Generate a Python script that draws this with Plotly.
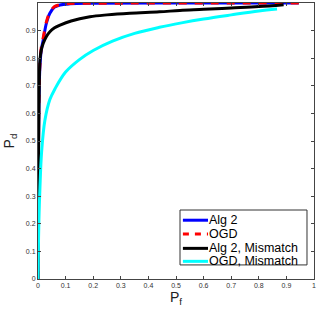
import plotly.graph_objects as go

alg2_x = [0, 0.001, 0.003, 0.007, 0.012, 0.019, 0.03, 0.043, 0.06, 0.08, 0.116, 0.2, 0.5, 0.945]
alg2_y = [0, 0.40, 0.62, 0.77, 0.83, 0.866, 0.925, 0.963, 0.985, 0.993, 0.997, 0.999, 1.0, 1.0]

ogd_x = [0, 0.001, 0.003, 0.007, 0.012, 0.019, 0.03, 0.043, 0.06, 0.08, 0.116, 0.2, 0.5, 0.945]
ogd_y = [0, 0.42, 0.64, 0.78, 0.84, 0.875, 0.93, 0.966, 0.987, 0.994, 0.998, 0.999, 1.0, 1.0]

alg2m_x = [0, 0.002, 0.004, 0.007, 0.012, 0.019, 0.03, 0.043, 0.06, 0.08, 0.12, 0.188, 0.25, 0.333, 0.44, 0.514, 0.6, 0.7, 0.8, 0.89]
alg2m_y = [0, 0.45, 0.65, 0.793, 0.83, 0.854, 0.878, 0.896, 0.91, 0.92, 0.935, 0.95, 0.957, 0.963, 0.968, 0.973, 0.977, 0.982, 0.987, 0.994]

ogdm_x = [0, 0.002, 0.004, 0.007, 0.013, 0.025, 0.043, 0.062, 0.1, 0.15, 0.2, 0.27, 0.35, 0.44, 0.52, 0.6, 0.7, 0.8, 0.866]
ogdm_y = [0, 0.15, 0.24, 0.33, 0.46, 0.575, 0.65, 0.69, 0.75, 0.795, 0.828, 0.862, 0.89, 0.912, 0.928, 0.942, 0.957, 0.971, 0.978]

series_names = ["Alg 2", "OGD", "Alg 2, Mismatch", "OGD, Mismatch"]
series_colors = ["#0000ff", "#ff0000", "#000000", "#00ffff"]
series_dash = ["solid", "8px,8px", "solid", "solid"]

x_ticks = [0, 0.1, 0.2, 0.3, 0.4, 0.5, 0.6, 0.7, 0.8, 0.9, 1]
y_ticks = [0, 0.1, 0.2, 0.3, 0.4, 0.5, 0.6, 0.7, 0.8, 0.9, 1]
tick_text = ["0", "0.1", "0.2", "0.3", "0.4", "0.5", "0.6", "0.7", "0.8", "0.9", "1"]

FONT = "Liberation Sans, Arial, sans-serif"

fig = go.Figure()
data = [(alg2_x, alg2_y), (ogd_x, ogd_y), (alg2m_x, alg2m_y), (ogdm_x, ogdm_y)]
for (xs, ys), name, col, dash in zip(data, series_names, series_colors, series_dash):
    fig.add_trace(go.Scatter(x=xs, y=ys, mode="lines", name=name, showlegend=False,
                             line=dict(color=col, width=3, dash=dash), line_shape="spline"))

axis_common = dict(
    showgrid=False, zeroline=False, showline=True, mirror="ticks", automargin=False,
    linecolor="#444", linewidth=1, ticks="inside", ticklen=3, tickcolor="#444",
    tickfont=dict(family=FONT, size=7, color="#333"),
)
fig.update_xaxes(range=[0, 1], tickvals=x_ticks, ticktext=tick_text,
                 title=dict(text="P<sub>f</sub>", font=dict(family=FONT, size=14, color="#222"),
                            standoff=1),
                 **axis_common)
fig.update_yaxes(range=[0, 1], tickvals=y_ticks, ticktext=tick_text,
                 title=dict(text="P<sub>d</sub>", font=dict(family=FONT, size=14, color="#222"),
                            standoff=7),
                 **axis_common)

# Legend box drawn in paper coordinates (plotly's own legend rows are too tall)
box_x0, box_x1, box_y0, box_y1 = 0.5145, 0.9746, 0.051, 0.250
row_y = [0.213, 0.163, 0.111, 0.064]
shapes = [dict(type="rect", xref="paper", yref="paper", x0=box_x0, x1=box_x1, y0=box_y0, y1=box_y1,
               line=dict(color="#333", width=1), fillcolor="white", layer="above")]
annotations = []
for name, col, dash, ry in zip(series_names, series_colors, series_dash, row_y):
    shapes.append(dict(type="line", xref="paper", yref="paper", x0=0.525, x1=0.616, y0=ry, y1=ry,
                       line=dict(color=col, width=3, dash="6px,6px" if dash != "solid" else "solid"),
                       layer="above"))
    annotations.append(dict(xref="paper", yref="paper", x=0.614, y=ry, text=name, showarrow=False,
                            xanchor="left", yanchor="middle",
                            font=dict(family=FONT, size=12.5, color="#000")))

fig.update_layout(
    width=319, height=311,
    margin=dict(l=38, r=5, t=3, b=32),
    plot_bgcolor="white", paper_bgcolor="white",
    showlegend=False,
    shapes=shapes, annotations=annotations,
    hovermode=False,
)

fig.write_html("out.html", config={"displayModeBar": False, "staticPlot": True},
               post_script="document.body.style.margin='0';")
